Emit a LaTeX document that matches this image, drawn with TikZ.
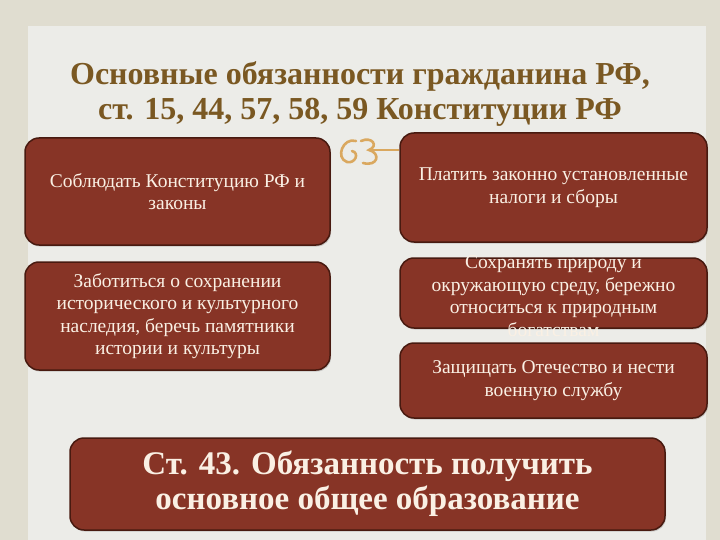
\documentclass[tikz,border=0pt]{standalone}
\usepackage{fontspec}
\setmainfont{Liberation Serif}
\usetikzlibrary{shadows}
\definecolor{pagebg}{RGB}{224,221,208}
\definecolor{panelbg}{RGB}{236,236,232}
\definecolor{titlebrown}{RGB}{122,88,34}
\definecolor{boxred}{RGB}{135,52,38}
\definecolor{boxedge}{RGB}{72,26,16}
\definecolor{boxtext}{RGB}{250,240,228}
\definecolor{ornament}{RGB}{218,168,95}
\tikzset{
  duty/.style={draw=boxedge, line width=1.5pt, fill=boxred, rounded corners=14pt,
    text=boxtext, align=center, inner sep=0pt,
    drop shadow={opacity=0.35, shadow xshift=1pt, shadow yshift=-1.5pt},
    font=\fontsize{19.5}{22.5}\selectfont},
  dutytext/.style={text=boxtext, align=center, font=\fontsize{19.5}{22.5}\selectfont},
  heading/.style={text=titlebrown, align=center, font=\fontsize{32}{35}\selectfont\bfseries},
}
\begin{document}
\begin{tikzpicture}[x=1pt, y=-1pt]
            \useasboundingbox (0,0) rectangle (720,540);
            \fill[pagebg] (0,0) rectangle (720,540);
            \fill[panelbg] (28,26) rectangle (706,540);
            \node[heading] (title) at (360,94) {Основные обязанности гражданина РФ,\\ст. 15, 44, 57, 58, 59 Конституции РФ};
            \node[duty, minimum width=305pt, minimum height=107pt] (law) at (177.5,191.5) {Соблюдать Конституцию РФ и\\законы};
            \node[duty, minimum width=305pt, minimum height=108pt] (heritage) at (177.5,316) {Заботиться о сохранении\\исторического и культурного\\наследия, беречь памятники\\истории и культуры};
            \node[duty, minimum width=307pt, minimum height=109pt] (taxes) at (553.5,187.5) {Платить законно установленные\\налоги и сборы};
            \node[duty, minimum width=307pt, minimum height=70pt] (nature) at (553.5,293) {};
            \node[dutytext] (naturetext) at (553.5,296) {Сохранять природу и\\окружающую среду, бережно\\относиться к природным\\богатствам};
            \node[duty, minimum width=307pt, minimum height=75pt] (defence) at (553.5,380.5) {Защищать Отечество и нести\\военную службу};
            \node[duty, minimum width=595pt, minimum height=92pt, font=\fontsize{33}{35}\selectfont\bfseries] (school) at (367.5,484) {Ст. 43. Обязанность получить\\основное общее образование};
            % ornament
            \coordinate (orn) at (370,150);
            \draw[ornament, line width=2.6pt, line cap=round] (356,141) .. controls (343,137) and (335,158) .. (347,162) .. controls (355,164) and (360,153) .. (352,151);
            \draw[ornament, line width=2.6pt, line cap=round] (361,141) .. controls (372,136) and (379,146) .. (369,150) .. controls (381,153) and (378,167) .. (363,163);
            \draw[ornament, line width=1.2pt] (orn) -- (taxes.west |- orn);
        \end{tikzpicture}
\end{document}
